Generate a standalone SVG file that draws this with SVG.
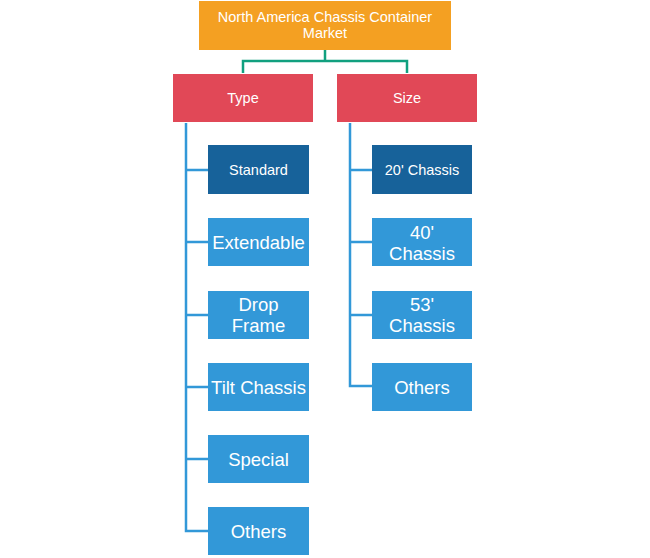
<svg xmlns="http://www.w3.org/2000/svg" width="650" height="558" viewBox="0 0 650 558">
<style>
text{font-family:"Liberation Sans",Arial,sans-serif;fill:#fff;text-anchor:middle;dominant-baseline:central}
.top{fill:#F4A022}
.cat{fill:#E14857}
.dark{fill:#17629A}
.leaf{fill:#3298D8}
.s{font-size:14.5px}
.l{font-size:18.5px}
.tl{fill:none;stroke:#11A07F;stroke-width:2.5}
.bl{fill:none;stroke:#3298D8;stroke-width:2.5}
</style>
<rect width="650" height="558" fill="#fff"/>
<g id="connectors">
<path class="tl" d="M325 50V61M243 73V61H407V73"/>
<path class="bl" d="M186 123V531H208M186 170H208M186 242H208M186 315H208M186 387H208M186 459H208"/>
<path class="bl" d="M350 123V386H372M350 170H372M350 242H372M350 315H372"/>
</g>
<g id="root"><rect class="top" x="199" y="1" width="252" height="49"/><text class="s" x="325" y="17">North America Chassis Container</text><text class="s" x="325" y="33">Market</text></g>
<g id="type"><rect class="cat" x="173" y="74" width="140" height="48"/><text class="s" x="243" y="98">Type</text></g>
<g id="size"><rect class="cat" x="337" y="74" width="140" height="48"/><text class="s" x="407" y="98">Size</text></g>
<g id="standard"><rect class="dark" x="208" y="145" width="101" height="49"/><text class="s" x="258.5" y="170">Standard</text></g>
<g id="extendable"><rect class="leaf" x="208" y="218" width="101" height="48"/><text class="l" x="258.5" y="242">Extendable</text></g>
<g id="dropframe"><rect class="leaf" x="208" y="291" width="101" height="48"/><text class="l" x="258.5" y="304">Drop</text><text class="l" x="258.5" y="325">Frame</text></g>
<g id="tilt"><rect class="leaf" x="208" y="363" width="101" height="48"/><text class="l" x="258.5" y="387">Tilt Chassis</text></g>
<g id="special"><rect class="leaf" x="208" y="435" width="101" height="48"/><text class="l" x="258.5" y="459">Special</text></g>
<g id="others1"><rect class="leaf" x="208" y="507" width="101" height="48"/><text class="l" x="258.5" y="531">Others</text></g>
<g id="c20"><rect class="dark" x="372" y="145" width="100" height="49"/><text class="s" x="422" y="170">20' Chassis</text></g>
<g id="c40"><rect class="leaf" x="372" y="218" width="100" height="48"/><text class="l" x="422" y="232">40'</text><text class="l" x="422" y="253">Chassis</text></g>
<g id="c53"><rect class="leaf" x="372" y="291" width="100" height="48"/><text class="l" x="422" y="304">53'</text><text class="l" x="422" y="325">Chassis</text></g>
<g id="others2"><rect class="leaf" x="372" y="363" width="100" height="48"/><text class="l" x="422" y="387">Others</text></g>
</svg>
